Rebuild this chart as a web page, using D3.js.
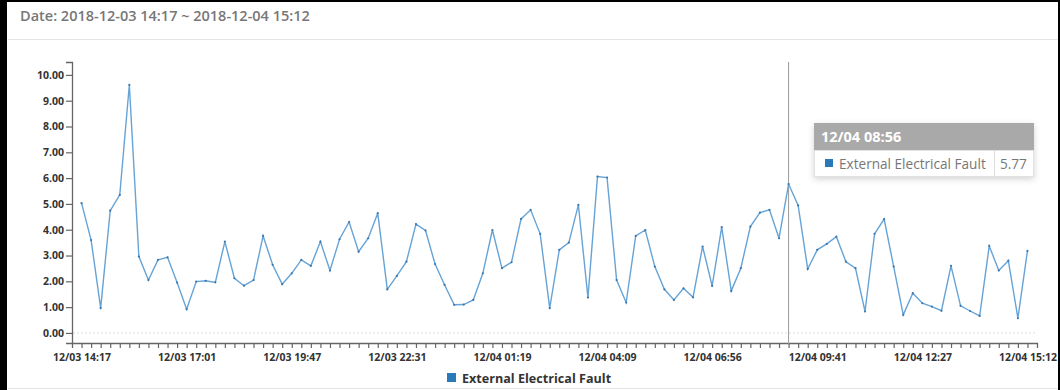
<!DOCTYPE html>
<html>
<head>
<meta charset="utf-8">
<script src="https://cdn.jsdelivr.net/npm/d3@7"></script>
<style>
  body { margin: 0; background: #fff; }
  svg { display: block; font-family: "Open Sans", sans-serif; }
</style>
</head>
<body>
<svg id="chart" width="1060" height="390"></svg>
<script>
const title = "Date: 2018-12-03 14:17 ~ 2018-12-04 15:12";
const seriesName = "External Electrical Fault";

// one value per sample (100 samples)
const values = [
  5.03, 3.60, 0.96, 4.74, 5.35, 9.61, 2.96, 2.05, 2.83, 2.93,
  1.95, 0.92, 1.99, 2.02, 1.96, 3.54, 2.12, 1.83, 2.05, 3.76,
  2.64, 1.89, 2.31, 2.83, 2.60, 3.54, 2.42, 3.63, 4.30, 3.15,
  3.67, 4.64, 1.69, 2.21, 2.76, 4.22, 3.97, 2.67, 1.86, 1.09,
  1.10, 1.28, 2.31, 3.99, 2.51, 2.74, 4.42, 4.77, 3.84, 0.96,
  3.22, 3.50, 4.96, 1.37, 6.06, 6.02, 2.05, 1.18, 3.76, 3.99,
  2.57, 1.69, 1.28, 1.73, 1.38, 3.35, 1.82, 4.10, 1.63, 2.51,
  4.12, 4.66, 4.77, 3.67, 5.77, 4.94, 2.48, 3.22, 3.45, 3.73,
  2.76, 2.51, 0.83, 3.84, 4.41, 2.57, 0.70, 1.54, 1.15, 1.02,
  0.86, 2.60, 1.05, 0.85, 0.66, 3.37, 2.42, 2.80, 0.57, 3.18
];

// labelled samples on the time axis
const tickIdx = [0, 11, 22, 33, 44, 55, 66, 77, 88, 99];
const tickLabels = [
  "12/03 14:17", "12/03 17:01", "12/03 19:47", "12/03 22:31", "12/04 01:19",
  "12/04 04:09", "12/04 06:56", "12/04 09:41", "12/04 12:27", "12/04 15:12"
];
const yTicks = [0, 1, 2, 3, 4, 5, 6, 7, 8, 9, 10];

// hovered sample shown in the tooltip
const hoverIdx = 74;
const hoverLabel = "12/04 08:56";

const svg = d3.select("#chart");
const W = 1060, H = 390;
const lineColor = "#66a3d6";
const dotColor = "#3a78ad";
const legendBlue = "#2a7ab9";

// frame + header
svg.append("rect").attr("x", 0).attr("y", 0).attr("width", W).attr("height", H).attr("fill", "#fff");
svg.append("line").attr("x1", 8).attr("x2", W).attr("y1", 39.5).attr("y2", 39.5).attr("stroke", "#e4e4e4");
svg.append("line").attr("x1", 8).attr("x2", W).attr("y1", 388.5).attr("y2", 388.5).attr("stroke", "#e4e4e4");
svg.append("rect").attr("x", 0).attr("y", 0).attr("width", 7).attr("height", H).attr("fill", "#000");
svg.append("rect").attr("x", 0).attr("y", 0).attr("width", W).attr("height", 2).attr("fill", "#000");
svg.append("rect").attr("x", W - 2).attr("y", 0).attr("width", 2).attr("height", H).attr("fill", "#000");

svg.append("text")
  .attr("x", 20).attr("y", 21)
  .attr("font-size", 14.5).attr("font-weight", 600).attr("fill", "#777")
  .text(title);

// scales
const x = d3.scalePoint()
  .domain(d3.range(values.length))
  .range([72, 1037])
  .padding(1);

const y = d3.scaleLinear()
  .domain([-0.39, 10.5])
  .range([343, 62]);

const axisColor = "#666";

// faint zero line
svg.append("line")
  .attr("x1", 73).attr("x2", 1037)
  .attr("y1", y(0)).attr("y2", y(0))
  .attr("stroke", "#ddd").attr("stroke-dasharray", "2,2");

// y axis
const gy = svg.append("g")
  .attr("transform", "translate(72,0)")
  .call(d3.axisLeft(y).tickValues(yTicks).tickFormat(d3.format(".2f")).tickSize(6).tickSizeOuter(6));

// x axis
const tickMap = new Map(tickIdx.map((d, i) => [d, tickLabels[i]]));
const gx = svg.append("g")
  .attr("transform", "translate(0,343)")
  .call(d3.axisBottom(x).tickSize(5).tickSizeOuter(5).tickFormat(d => tickMap.get(d) || ""));

[gx, gy].forEach(g => {
  g.select(".domain").attr("stroke", axisColor).attr("stroke-width", 1.3);
  g.selectAll(".tick line").attr("stroke", axisColor).attr("stroke-width", 1.2);
  g.selectAll(".tick text")
    .attr("fill", "#333")
    .attr("font-family", "Open Sans, sans-serif")
    .attr("font-weight", 700)
    .attr("font-size", 10.5);
});
gy.selectAll(".tick text").attr("x", -8);
gx.selectAll(".tick text").attr("dy", "0.95em");

// hover guide
svg.append("line")
  .attr("x1", x(hoverIdx)).attr("x2", x(hoverIdx))
  .attr("y1", 62).attr("y2", 345)
  .attr("stroke", "#999").attr("stroke-width", 1);

// series line
const line = d3.line()
  .x((d, i) => x(i))
  .y(d => y(d));

svg.append("path")
  .datum(values)
  .attr("fill", "none")
  .attr("stroke", lineColor)
  .attr("stroke-width", 1.4)
  .attr("d", line);

svg.append("g")
  .selectAll("circle")
  .data(values)
  .join("circle")
  .attr("cx", (d, i) => x(i))
  .attr("cy", d => y(d))
  .attr("r", 1.1)
  .attr("fill", dotColor);

// legend
const leg = svg.append("g").attr("transform", "translate(447,373)");
leg.append("rect").attr("width", 9).attr("height", 9).attr("fill", legendBlue);
leg.append("text")
  .attr("x", 15).attr("y", 9.5)
  .attr("font-size", 12.6).attr("font-weight", 700).attr("fill", "#333")
  .text(seriesName);

// tooltip
const defs = svg.append("defs");
const f = defs.append("filter").attr("id", "shadow").attr("x", "-10%").attr("y", "-30%").attr("width", "120%").attr("height", "170%");
f.append("feDropShadow").attr("dx", 0).attr("dy", 2).attr("stdDeviation", 3).attr("flood-color", "#000").attr("flood-opacity", 0.18);

const tip = svg.append("g").attr("transform", "translate(814,123)");
tip.append("rect").attr("width", 220).attr("height", 54).attr("fill", "#fff").attr("filter", "url(#shadow)");
tip.append("rect").attr("width", 220).attr("height", 27).attr("fill", "#a9a9a9");
tip.append("rect").attr("x", 0.5).attr("y", 27.5).attr("width", 219).attr("height", 26).attr("fill", "#fff").attr("stroke", "#e2e2e2");
tip.append("line").attr("x1", 180.5).attr("x2", 180.5).attr("y1", 27.5).attr("y2", 53.5).attr("stroke", "#ddd");
tip.append("text")
  .attr("x", 7).attr("y", 19)
  .attr("font-size", 14.5).attr("font-weight", 700).attr("fill", "#fff")
  .text(hoverLabel);
tip.append("rect").attr("x", 11).attr("y", 36).attr("width", 8).attr("height", 8).attr("fill", legendBlue);
tip.append("text")
  .attr("x", 25).attr("y", 46)
  .attr("font-size", 13.6).attr("fill", "#777")
  .text(seriesName);
tip.append("text")
  .attr("x", 186).attr("y", 46)
  .attr("font-size", 13.6).attr("fill", "#777")
  .text(d3.format(".2f")(values[hoverIdx]));
</script>
</body>
</html>
